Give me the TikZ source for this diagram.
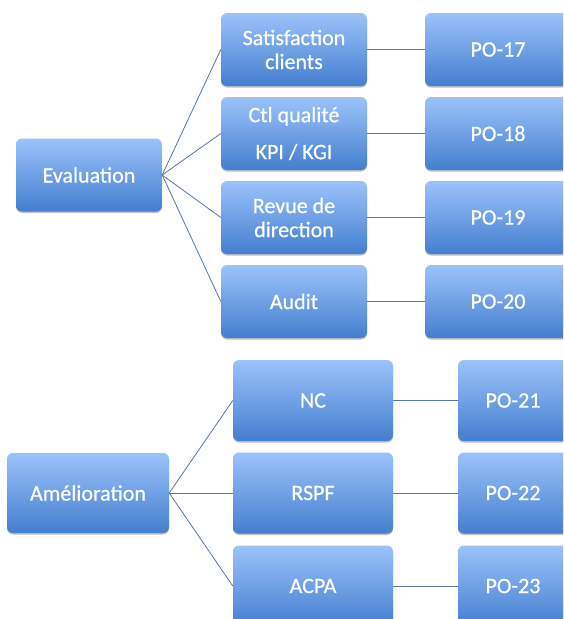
\documentclass[tikz,border=0pt]{standalone}
\usepackage{fontspec}
\setmainfont{Carlito}
\newfontfamily\boxfont{Carlito}[FakeBold=0.6]
\usetikzlibrary{shadows}
\definecolor{boxtop}{RGB}{156,194,250}
\definecolor{boxbot}{RGB}{68,126,207}
\definecolor{linkc}{RGB}{88,118,162}
\tikzset{
  pbox/.style={rectangle, rounded corners=6pt, top color=boxtop, bottom color=boxbot,
    draw=none, inner sep=0pt, align=center, text=white,
    font=\boxfont\fontsize{22}{24}\selectfont,
    drop shadow={shadow xshift=0pt, shadow yshift=-1.5pt, opacity=0.25, fill=black}},
  link/.style={draw=linkc, line width=0.8pt}
}
\begin{document}
\begin{tikzpicture}[x=1pt,y=-1pt]
\useasboundingbox (0,0) rectangle (563,619);
\clip (0,0) rectangle (563,619);
\fill[white] (0,0) rectangle (563,619);
% top group
\node[pbox, minimum width=146pt, minimum height=73pt] (eval) at (89,175) {Evaluation};
\node[pbox, minimum width=146pt, minimum height=73pt] (s1) at (294,49.5) {Satisfaction\\clients};
\node[pbox, minimum width=146pt, minimum height=73pt] (s2) at (294,133.5) {Ctl qualité\\[13pt]KPI / KGI};
\node[pbox, minimum width=146pt, minimum height=73pt] (s3) at (294,217.5) {Revue de\\direction};
\node[pbox, minimum width=146pt, minimum height=73pt] (s4) at (294,301.5) {Audit};
\node[pbox, minimum width=146pt, minimum height=73pt] (p1) at (498,49.5) {PO-17};
\node[pbox, minimum width=146pt, minimum height=73pt] (p2) at (498,133.5) {PO-18};
\node[pbox, minimum width=146pt, minimum height=73pt] (p3) at (498,217.5) {PO-19};
\node[pbox, minimum width=146pt, minimum height=73pt] (p4) at (498,301.5) {PO-20};
\foreach \i in {1,...,4} {
  \draw[link] (eval.east) -- (s\i.west);
  \draw[link] (s\i.east) -- (p\i.west);
}
% bottom group
\node[pbox, minimum width=162pt, minimum height=80pt] (amel) at (88,493) {Amélioration};
\node[pbox, minimum width=160pt, minimum height=81pt] (n1) at (313,400.5) {NC};
\node[pbox, minimum width=160pt, minimum height=81pt] (n2) at (313,493) {RSPF};
\node[pbox, minimum width=160pt, minimum height=81pt] (n3) at (313,586) {ACPA};
\node[pbox, minimum width=110pt, minimum height=81pt] (q1) at (513,400.5) {PO-21};
\node[pbox, minimum width=110pt, minimum height=81pt] (q2) at (513,493) {PO-22};
\node[pbox, minimum width=110pt, minimum height=81pt] (q3) at (513,586) {PO-23};
\foreach \i in {1,...,3} {
  \draw[link] (amel.east) -- (n\i.west);
  \draw[link] (n\i.east) -- (q\i.west);
}
\end{tikzpicture}
\end{document}
